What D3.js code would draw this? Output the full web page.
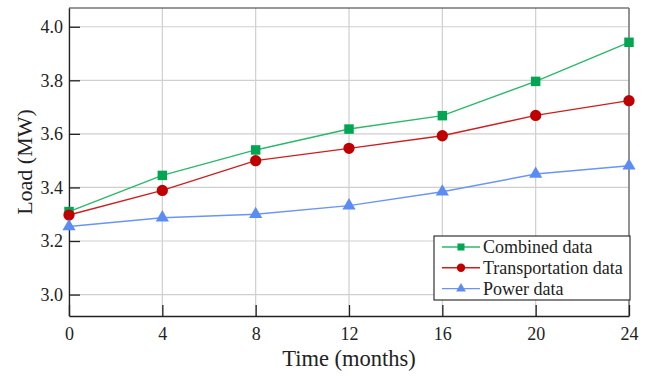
<!DOCTYPE html>
<html>
<head>
<meta charset="utf-8">
<script src="https://cdn.jsdelivr.net/npm/d3@7"></script>
<style>
  body { margin: 0; background: #fff; }
  svg text { font-family: "Liberation Serif", "Times New Roman", "DejaVu Serif", serif; fill: #222; }
</style>
</head>
<body>
<svg id="chart" width="651" height="376"></svg>
<script>
// months on the x axis
const months = [0, 4, 8, 12, 16, 20, 24];
// load values (MW)
const combined = [3.31, 3.445, 3.54, 3.618, 3.668, 3.796, 3.942];
const transport = [3.297, 3.389, 3.50, 3.546, 3.593, 3.669, 3.724];
const power = [3.254, 3.287, 3.30, 3.332, 3.384, 3.45, 3.481];
const yTicks = [3.0, 3.2, 3.4, 3.6, 3.8, 4.0];

const series = [
  {name: 'Combined data', values: combined, color: '#00a651', line: '#2bb86a', shape: d3.symbolSquare, size: 90},
  {name: 'Transportation data', values: transport, color: '#c00000', line: '#cc2020', shape: d3.symbolCircle, size: 100},
  {name: 'Power data', values: power, color: '#5b8cf5', line: '#6a95f5', shape: d3.symbolTriangle, size: 75}
];

const margin = {top: 8, right: 22, bottom: 60, left: 69};
const width = 651 - margin.left - margin.right;
const height = 376 - margin.top - margin.bottom;

const svg = d3.select('#chart');
const g = svg.append('g').attr('transform', `translate(${margin.left},${margin.top})`);

const xScale = d3.scaleLinear().domain([0, 24]).range([0, width]);
const yScale = d3.scaleLinear().domain([2.92, 4.07]).range([height, 0]);

// grid
g.append('g').selectAll('line').data(months).enter().append('line')
  .attr('x1', d => xScale(d)).attr('x2', d => xScale(d))
  .attr('y1', 0).attr('y2', height)
  .style('stroke', '#cfcfcf').style('stroke-width', 1.2);
g.append('g').selectAll('line').data(yTicks).enter().append('line')
  .attr('x1', 0).attr('x2', width)
  .attr('y1', d => yScale(d)).attr('y2', d => yScale(d))
  .style('stroke', '#cfcfcf').style('stroke-width', 1.2);

// frame: top dark, right gray
g.append('line').attr('x1', 0).attr('x2', width).attr('y1', 0).attr('y2', 0)
  .style('stroke', '#333').style('stroke-width', 1.2);
g.append('line').attr('x1', width).attr('x2', width).attr('y1', 0).attr('y2', height)
  .style('stroke', '#777').style('stroke-width', 1.5);

// axes with inward ticks
const xAxis = d3.axisBottom(xScale).tickValues(months).tickFormat(d3.format('d'))
  .tickSizeInner(-11).tickSizeOuter(0).tickPadding(11);
const xAxisDraw = g.append('g').attr('class', 'x axis')
  .attr('transform', `translate(0,${height})`).call(xAxis);
const yAxis = d3.axisLeft(yScale).tickValues(yTicks).tickFormat(d3.format('.1f'))
  .tickSizeInner(-11).tickSizeOuter(0).tickPadding(6);
const yAxisDraw = g.append('g').attr('class', 'y axis').call(yAxis);

[xAxisDraw, yAxisDraw].forEach(a => {
  a.attr('font-family', null).attr('font-size', null);
  a.select('.domain').style('stroke', '#222').style('stroke-width', 1.3);
  a.selectAll('.tick line').style('stroke', '#222').style('stroke-width', 1.3);
  a.selectAll('.tick text').style('font-size', '18px').style('fill', '#222');
});

// lines
const lineGen = (vals) => d3.line()
  .x((d, i) => xScale(months[i])).y(d => yScale(d))(vals);

series.forEach(s => {
  g.append('path').attr('d', lineGen(s.values))
    .style('fill', 'none').style('stroke', s.line).style('stroke-width', 1.4);
  g.append('g').selectAll('path').data(s.values).enter().append('path')
    .attr('d', d3.symbol().type(s.shape).size(s.size))
    .attr('transform', (d, i) => `translate(${xScale(months[i])},${yScale(d)})`)
    .style('fill', s.color);
});

// axis labels
svg.append('text').attr('x', margin.left + width / 2).attr('y', 366)
  .attr('text-anchor', 'middle').style('font-size', '22.5px').text('Time (months)');
svg.append('text').attr('transform', `translate(32,${margin.top + height / 2}) rotate(-90)`)
  .attr('text-anchor', 'middle').style('font-size', '22px').text('Load (MW)');

// legend
const legend = svg.append('g').attr('transform', 'translate(434,236)');
legend.append('rect').attr('width', 196).attr('height', 64)
  .style('fill', '#fff').style('stroke', '#333').style('stroke-width', 1.2);
series.forEach((s, i) => {
  const y = 11 + i * 20.8;
  legend.append('line').attr('x1', 8).attr('x2', 46).attr('y1', y).attr('y2', y)
    .style('stroke', s.line).style('stroke-width', 1.4);
  legend.append('path').attr('d', d3.symbol().type(s.shape).size(s.size * 0.55))
    .attr('transform', `translate(27,${y})`).style('fill', s.color);
  legend.append('text').attr('x', 49).attr('y', y).attr('dy', '0.35em')
    .style('font-size', '18px').text(s.name);
});
</script>
</body>
</html>
